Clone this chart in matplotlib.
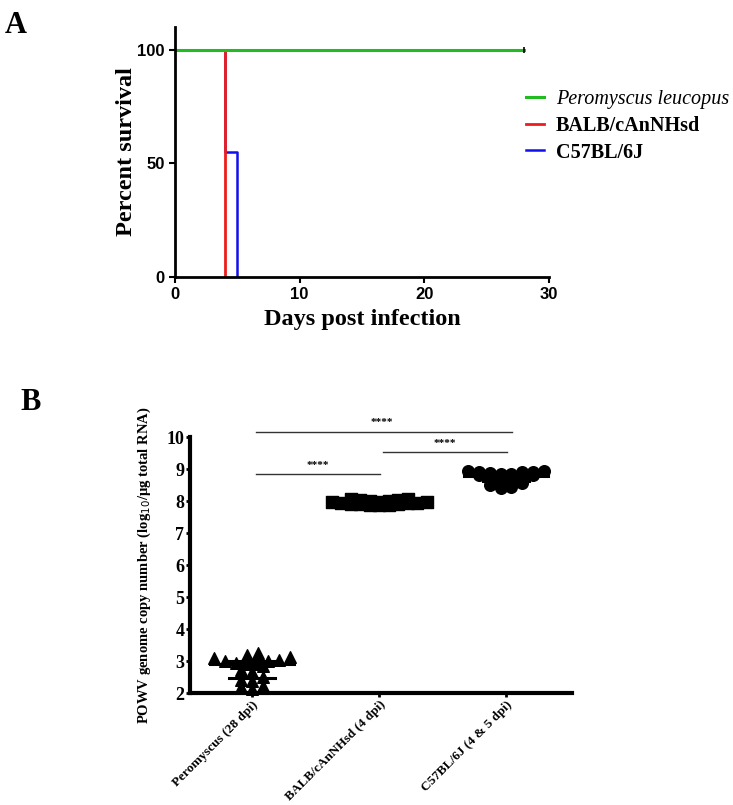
import numpy as np
import matplotlib
matplotlib.use("Agg")
import matplotlib.pyplot as plt

# ---------------- data ----------------
# Panel A: Kaplan-Meier survival
surv_labels = ["Peromyscus leucopus", "BALB/cAnNHsd", "C57BL/6J"]
pero_days = [0, 28]
pero_surv = [100, 100]
balb_days = [0, 4]
balb_surv = [100, 0]
c57_days = [0, 4, 5]
c57_surv = [100, 55, 0]
a_xticks = [0, 10, 20, 30]
a_yticks = [0, 50, 100]

# Panel B: viral load scatter
b_categories = ["Peromyscus (28 dpi)", "BALB/cAnNHsd (4 dpi)", "C57BL/6J (4 & 5 dpi)"]
pero_vals = [3.03, 3.00, 3.20, 2.84, 2.42, 2.22, 3.10, 2.71, 2.13, 2.67,
             3.12, 2.20, 2.90, 3.25, 2.38, 2.95, 3.00, 2.50, 2.92]
balb_vals = [7.98, 8.02, 7.95, 7.92, 7.88, 7.90, 7.93, 8.05, 8.06, 7.97,
             7.91, 7.87, 7.94, 8.00, 8.03, 7.96, 7.89, 7.99]
c57_vals = [8.95, 8.93, 8.90, 8.92, 8.88, 8.85, 8.80, 8.82, 8.78, 8.80,
            8.76, 8.75, 8.70, 8.65, 8.60, 8.55, 8.50, 8.45, 8.42, 8.62,
            8.85, 8.90]
b_yticks = [2, 3, 4, 5, 6, 7, 8, 9, 10]
sig_pairs = [(0, 2), (1, 2), (0, 1)]
sig_heights = [10.17, 9.52, 8.84]
sig_text = "****"

# ---------------- figure ----------------
W, H = 733, 805
fig = plt.figure(figsize=(W / 100, H / 100), dpi=100)

serif = ["Liberation Serif", "DejaVu Serif"]
narrow = ["Liberation Sans Narrow", "Liberation Sans", "DejaVu Sans"]

# ----- Panel A -----
axA = fig.add_axes([175 / W, 1 - 277 / H, 374 / W, 250 / H])
axA.plot(c57_days, c57_surv, drawstyle="steps-post", color="#1010ee", lw=1.8,
         label=surv_labels[2])
axA.plot(balb_days, balb_surv, drawstyle="steps-post", color="#ee1c1c", lw=2.0,
         label=surv_labels[1])
axA.plot(pero_days, pero_surv, color="#22bb22", lw=2.2, label=surv_labels[0])
axA.plot([pero_days[-1]], [pero_surv[-1]], marker="|", color="black", ms=5, mew=1.2)
axA.set_xlim(0, 30)
axA.set_ylim(0, 110)
axA.set_xticks(a_xticks)
axA.set_yticks(a_yticks)
for s in ["top", "right"]:
    axA.spines[s].set_visible(False)
for s in ["left", "bottom"]:
    axA.spines[s].set_linewidth(2)
axA.tick_params(width=1.5, length=4, labelsize=12)
for lab in axA.get_xticklabels() + axA.get_yticklabels():
    lab.set_family(narrow)
    lab.set_fontweight("bold")
axA.set_xlabel("Days post infection", family=serif, fontweight="bold", fontsize=17.5, labelpad=5)
axA.set_ylabel("Percent survival", family=serif, fontweight="bold", fontsize=17.5, labelpad=0)

handles, labels = axA.get_legend_handles_labels()
order = [2, 1, 0]
leg = axA.legend([handles[i] for i in order], [labels[i] for i in order],
                 loc="upper left", bbox_to_anchor=(0.89, 0.82), frameon=False,
                 handlelength=0.9, handletextpad=0.6, labelspacing=0.33,
                 prop={"family": serif, "size": 14.5, "weight": "bold"})
txts = leg.get_texts()
txts[0].set_fontstyle("italic")
txts[0].set_fontweight("normal")

fig.text(5 / W, 1 - 33 / H, "A", family=serif, fontweight="bold", fontsize=22)

# ----- Panel B -----
axB = fig.add_axes([190 / W, 1 - 693 / H, 382 / W, 256 / H])
axB.set_xlim(-0.49, 2.52)
axB.set_ylim(2, 10)


def spread(values, bin_h, sp):
    """GraphPad-like scatter: group points in horizontal rows and spread each row."""
    vals = np.asarray(values)
    bins = np.floor((vals - vals.min()) / bin_h).astype(int)
    offs = np.zeros(len(vals))
    for b in np.unique(bins):
        idx = np.where(bins == b)[0]
        idx = idx[np.argsort(vals[idx])]
        n = len(idx)
        pos = (np.arange(n) - (n - 1) / 2) * sp
        order = np.argsort(np.abs(pos), kind="stable")
        for k, j in enumerate(idx):
            offs[j] = pos[order[k]]
    return offs


groups = [(pero_vals, "^", 0.25, 0.085), (balb_vals, "s", 0.10, 0.075), (c57_vals, "o", 0.14, 0.085)]
for i, (vals, mk, bh, sp) in enumerate(groups):
    vals = np.array(vals)
    offs = spread(vals, bh, sp)
    axB.scatter(i + offs, vals, marker=mk, s=70, color="black", zorder=3, clip_on=False)
    med = np.median(vals)
    q1, q3 = np.percentile(vals, [25, 75])
    axB.plot([i - 0.33, i + 0.33], [med, med], color="black", lw=2.2, zorder=4)
    axB.plot([i - 0.18, i + 0.18], [q1, q1], color="black", lw=2.2, zorder=4)
    axB.plot([i - 0.18, i + 0.18], [q3, q3], color="black", lw=2.2, zorder=4)
    axB.plot([i, i], [q1, q3], color="black", lw=2.2, zorder=4)

for (a, b), h in zip(sig_pairs, sig_heights):
    axB.plot([a + 0.03, b + 0.05 if b == 2 and a == 0 else b + 0.01], [h, h],
             color="#333333", lw=1.0, clip_on=False)
    axB.text((a + b) / 2 + 0.02, h + 0.13, sig_text, ha="center", va="bottom",
             fontsize=8, family=serif, fontweight="bold", clip_on=False)

axB.set_xticks(range(len(b_categories)))
axB.set_xticklabels(b_categories, rotation=45, ha="right", rotation_mode="anchor",
                    family=serif, fontweight="bold", fontsize=9.5)
axB.set_yticks(b_yticks)
axB.set_yticklabels([str(t) for t in b_yticks], family=serif, fontweight="bold", fontsize=13)
for s in ["top", "right"]:
    axB.spines[s].set_visible(False)
for s in ["left", "bottom"]:
    axB.spines[s].set_linewidth(3)
axB.tick_params(width=2, length=3, pad=1)
axB.set_ylabel(r"POWV genome copy number (log$_{10}$/µg total RNA)", family=serif,
               fontweight="bold", fontsize=10.5, labelpad=10)

fig.text(20 / W, 1 - 410 / H, "B", family=serif, fontweight="bold", fontsize=22)

fig.savefig("out.png", dpi=100)
